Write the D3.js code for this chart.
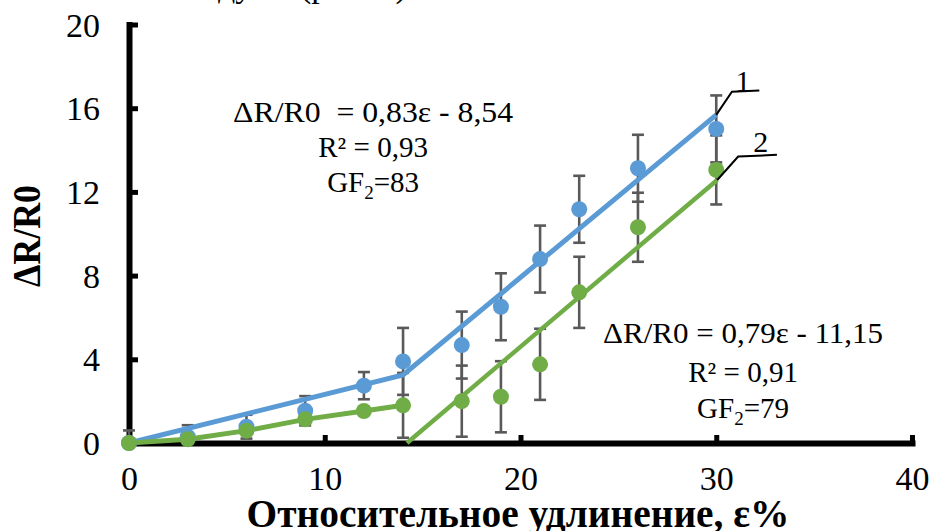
<!DOCTYPE html>
<html><head><meta charset="utf-8">
<script src="https://cdn.jsdelivr.net/npm/d3@7"></script>
<style>
html,body{margin:0;padding:0;background:#fff;}
svg{display:block;font-family:"Liberation Serif","Times New Roman",serif;}
</style></head>
<body>
<svg id="chart" width="932" height="531"></svg>
<script>
// ---- data ----
const strain  = [0, 3, 6, 9, 12, 14, 17, 19, 21, 23, 26, 30];
const series1 = [0, 0.3, 0.78, 1.54, 2.74, 3.9, 4.68, 6.51, 8.79, 11.17, 13.13, 15.01];
const err1    = [0.6, 0.55, 0.57, 0.7, 0.65, 1.6, 1.6, 1.6, 1.6, 1.6, 1.6, 1.6];
const series2 = [0, 0.18, 0.59, 1.13, 1.53, 1.8, 2.0, 2.21, 3.76, 7.2, 10.31, 13.05];
const err2    = [0, 0.1, 0.1, 0.1, 0.15, 1.55, 1.7, 1.7, 1.7, 1.7, 1.65, 1.65];
const trend1  = [[0, 0], [14, 3.25], [30, 15.68]];
const trend2  = [[14.2, 0], [30.05, 12.57]];
const xTicks  = [0, 10, 20, 30, 40];
const yTicks  = [0, 4, 8, 12, 16, 20];
const eq1 = ["ΔR/R0  = 0,83ε - 8,54", "R² = 0,93", ["GF", "2", "=83"]];
const eq2 = ["ΔR/R0 = 0,79ε - 11,15", "R² = 0,91", ["GF", "2", "=79"]];
const xTitle = "Относительное удлинение, ε%";
const yTitle = "ΔR/R0";
const topFragment = ["ду", "(рис. 1)"];

// ---- scales ----
const svg = d3.select("#chart");
const x = d3.scaleLinear().domain([0, 40]).range([129, 912]);
const y = d3.scaleLinear().domain([0, 20]).range([443, 24.5]);
const BLUE = "#5B9BD5", GREEN = "#70AD47", GREY = "#595959";

// cut-off caption fragment at the very top
svg.append("text").attr("x", 218).attr("y", -3).attr("font-size", 34).text(topFragment[0]);
svg.append("text").attr("x", 300).attr("y", -3).attr("font-size", 34).text(topFragment[1]);

// ---- axes ----
const gx = svg.append("g").attr("transform", `translate(0,${y(0)})`)
  .call(d3.axisBottom(x).tickValues(xTicks).tickFormat(d3.format("d"))
        .tickSizeInner(-8).tickSizeOuter(0).tickPadding(23));
const gy = svg.append("g").attr("transform", `translate(${x(0)},0)`)
  .call(d3.axisLeft(y).tickValues(yTicks).tickFormat(d3.format("d"))
        .tickSizeInner(-9).tickSizeOuter(0).tickPadding(29));
[gx, gy].forEach(g => {
  g.attr("font-family", null).attr("font-size", null);
  g.select(".domain").attr("stroke", "#000").attr("stroke-width", 6).attr("stroke-linecap", "square");
  g.selectAll(".tick line").attr("stroke", "#000").attr("stroke-width", 5);
  g.selectAll(".tick text").attr("fill", "#000").attr("font-size", 34)
   .attr("font-family", "'Liberation Serif', serif");
});
gy.selectAll(".tick text").attr("dy", "0.34em");

// axis titles
svg.append("text").attr("x", 518).attr("y", 527).attr("text-anchor", "middle")
  .attr("font-size", 40).attr("font-weight", "bold")
  .attr("textLength", 543).attr("lengthAdjust", "spacingAndGlyphs").text(xTitle);
svg.append("text").attr("transform", "translate(40,236) rotate(-90)").attr("text-anchor", "middle")
  .attr("font-size", 39).attr("font-weight", "bold")
  .attr("textLength", 102).attr("lengthAdjust", "spacingAndGlyphs").text(yTitle);

// ---- error bars ----
function errBars(vals, errs) {
  const g = svg.append("g").attr("stroke", GREY).attr("stroke-width", 2.6).attr("fill", "none");
  strain.forEach((s, i) => {
    if (errs[i] <= 0) return;
    const top = vals[i] + errs[i], bot = Math.max(0, vals[i] - errs[i]);
    g.append("line").attr("x1", x(s)).attr("x2", x(s)).attr("y1", y(top)).attr("y2", y(bot));
    [top, bot].forEach(v => g.append("line").attr("x1", x(s) - 6).attr("x2", x(s) + 6)
      .attr("y1", y(v)).attr("y2", y(v)));
  });
}
errBars(series1, err1);
errBars(series2, err2);

// ---- lines ----
const line = d3.line().x(d => x(d[0])).y(d => y(d[1]));
svg.append("path").datum(trend1).attr("d", line).attr("fill", "none")
  .attr("stroke", BLUE).attr("stroke-width", 5);
svg.append("path").datum(strain.slice(0, 6).map((s, i) => [s, series2[i]])).attr("d", line)
  .attr("fill", "none").attr("stroke", GREEN).attr("stroke-width", 5);
svg.append("path").datum(trend2).attr("d", line).attr("fill", "none")
  .attr("stroke", GREEN).attr("stroke-width", 4.5);

// ---- markers ----
svg.append("g").selectAll("circle").data(strain).join("circle")
  .attr("cx", d => x(d)).attr("cy", (d, i) => y(series1[i])).attr("r", 8).attr("fill", BLUE);
svg.append("g").selectAll("circle").data(strain).join("circle")
  .attr("cx", d => x(d)).attr("cy", (d, i) => y(series2[i])).attr("r", 8).attr("fill", GREEN);

// ---- curve labels with leaders ----
const leader1 = [[30, 15.68], [30.8, 16.79], [32.2, 16.84]];
const leader2 = [[30.05, 12.57], [31.12, 13.69], [33.1, 13.77]];
[leader1, leader2].forEach(l => svg.append("path").datum(l).attr("d", line)
  .attr("fill", "none").attr("stroke", "#000").attr("stroke-width", 2));
svg.append("text").attr("x", x(31.37)).attr("y", y(16.83)).attr("text-anchor", "middle")
  .attr("font-size", 30).text("1");
svg.append("text").attr("x", x(32.27)).attr("y", y(13.91)).attr("text-anchor", "middle")
  .attr("font-size", 30).text("2");

// ---- equations ----
function eqBlock(lines, cx, baselines, width0) {
  lines.forEach((ln, i) => {
    const t = svg.append("text").attr("x", x(cx)).attr("y", y(baselines[i]))
      .attr("text-anchor", "middle").attr("font-size", 29).attr("fill", "#000")
      .style("white-space", "pre");
    if (typeof ln === "string") {
      t.text(ln);
      if (i === 0) t.attr("textLength", width0).attr("lengthAdjust", "spacingAndGlyphs");
    } else {
      t.append("tspan").text(ln[0]);
      t.append("tspan").attr("font-size", 19).attr("dy", 7).text(ln[1]);
      t.append("tspan").attr("dy", -7).text(ln[2]);
    }
  });
}
eqBlock(eq1, 12.47, [15.34, 13.67, 12.0], 280);
eqBlock(eq2, 31.37, [4.78, 2.93, 1.2], 280);
</script>
</body></html>
